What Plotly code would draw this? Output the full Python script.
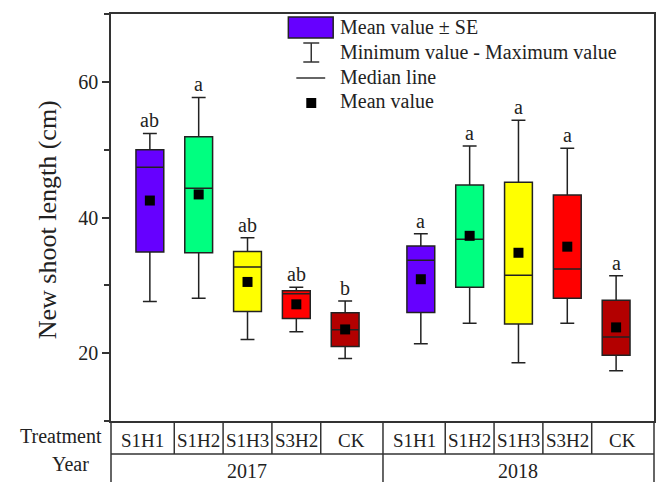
import plotly.graph_objects as go

# ---------------- data ----------------
years = ["2017", "2018"]
treatments = ["S1H1", "S1H2", "S1H3", "S3H2", "CK"]
positions = [1, 2, 3, 4, 5, 6.55, 7.55, 8.55, 9.55, 10.55]
se_low = [34.9, 34.8, 26.15, 25.1, 21.0, 26.0, 29.7, 24.3, 28.1, 19.7]
se_high = [50.0, 51.9, 35.0, 29.2, 25.95, 35.8, 44.8, 45.2, 43.3, 27.8]
medians = [47.4, 44.3, 32.7, 28.75, 23.45, 33.7, 36.8, 31.5, 32.4, 22.4]
means = [42.5, 43.4, 30.5, 27.2, 23.5, 30.9, 37.3, 34.8, 35.7, 23.8]
mins = [27.6, 28.1, 22.0, 23.15, 19.2, 21.4, 24.4, 18.6, 24.4, 17.4]
maxs = [52.4, 57.7, 37.0, 29.7, 27.7, 37.6, 50.55, 54.35, 50.2, 31.4]
letters = ["ab", "a", "ab", "ab", "b", "a", "a", "a", "a", "a"]
treat_colors = ["#6600FF", "#00FF80", "#FFFF00", "#FF0000", "#B30000"]
legend_labels = ["Mean value \u00b1 SE", "Minimum value - Maximum value",
                 "Median line", "Mean value"]
y_title = "New shoot length (cm)"
row_titles = ["Treatment", "Year"]

# ---------------- layout constants ----------------
FW, FH = 661, 482
L, R, T, B = 111, 5, 14, 61
PW, PH = FW - L - R, FH - T - B
XR = [0.204, 11.326]
YR = [10, 70]
FONT = "Liberation Serif, Times New Roman, DejaVu Serif, serif"
INK = "#222222"
AX = "#333333"


def px(xp):
    return (xp - L) / PW


def py(yp):
    return 1 - (yp - T) / PH


def dx(x):
    return (x - XR[0]) / (XR[1] - XR[0])


fig = go.Figure()

n = len(positions)
for i in range(n):
    fig.add_trace(go.Box(
        x=[positions[i]], q1=[se_low[i]], median=[medians[i]], q3=[se_high[i]],
        lowerfence=[mins[i]], upperfence=[maxs[i]],
        fillcolor=treat_colors[i % 5], line=dict(color=INK, width=1.5),
        width=0.57, whiskerwidth=0.5, boxpoints=False, showlegend=False,
        hoverinfo="skip"))

fig.add_trace(go.Scatter(
    x=positions, y=means, mode="markers",
    marker=dict(symbol="square", size=10, color="black", line=dict(width=0)),
    showlegend=False, hoverinfo="skip"))

annotations = []
for i in range(n):
    annotations.append(dict(
        x=positions[i], y=maxs[i], xref="x", yref="y", text=letters[i],
        showarrow=False, yanchor="bottom", xanchor="center", yshift=0,
        font=dict(family=FONT, size=20, color=INK)))

shapes = []
line_style = dict(color=AX, width=1.5)

# ---------- table below the plot ----------
y_table_top = py(421)
y_mid = py(454)
y_bot = py(482)
shapes.append(dict(type="line", xref="paper", yref="paper", x0=0, x1=0,
                   y0=y_table_top, y1=y_bot, line=line_style))
shapes.append(dict(type="line", xref="paper", yref="paper", x0=1, x1=1,
                   y0=y_table_top, y1=y_bot, line=line_style))
shapes.append(dict(type="line", xref="paper", yref="paper", x0=0, x1=1,
                   y0=y_mid, y1=y_mid, line=line_style))

bounds = [XR[0]]
for i in range(n - 1):
    bounds.append((positions[i] + positions[i + 1]) / 2)
bounds.append(XR[1])
for j in range(1, n):
    bottom = y_bot if j == 5 else y_mid
    shapes.append(dict(type="line", xref="paper", yref="paper",
                       x0=dx(bounds[j]), x1=dx(bounds[j]),
                       y0=y_table_top, y1=bottom, line=line_style))

for i in range(n):
    cx = (dx(bounds[i]) + dx(bounds[i + 1])) / 2
    annotations.append(dict(
        x=cx, y=py(440), xref="paper", yref="paper", text=treatments[i % 5],
        showarrow=False, xanchor="center", yanchor="middle",
        font=dict(family=FONT, size=19, color=INK)))

for g in range(2):
    cx = (dx(bounds[g * 5]) + dx(bounds[g * 5 + 5])) / 2
    annotations.append(dict(
        x=cx, y=py(471), xref="paper", yref="paper", text=years[g],
        showarrow=False, xanchor="center", yanchor="middle",
        font=dict(family=FONT, size=20, color=INK)))

annotations.append(dict(
    x=px(104), y=py(436), xref="paper", yref="paper", text=row_titles[0],
    showarrow=False, xanchor="right", yanchor="middle",
    font=dict(family=FONT, size=20, color=INK)))
annotations.append(dict(
    x=px(70), y=py(464), xref="paper", yref="paper", text=row_titles[1],
    showarrow=False, xanchor="center", yanchor="middle",
    font=dict(family=FONT, size=20, color=INK)))

annotations.append(dict(
    x=px(47), y=py(220), xref="paper", yref="paper", text=y_title,
    showarrow=False, xanchor="center", yanchor="middle", textangle=-90,
    font=dict(family=FONT, size=26, color=INK)))

# ---------- custom legend ----------
shapes.append(dict(type="rect", xref="paper", yref="paper",
                   x0=px(289), x1=px(334), y0=py(38), y1=py(17),
                   fillcolor=treat_colors[0], line=dict(color=INK, width=1.5)))
shapes.append(dict(type="line", xref="paper", yref="paper",
                   x0=px(312), x1=px(312), y0=py(43), y1=py(62), line=line_style))
shapes.append(dict(type="line", xref="paper", yref="paper",
                   x0=px(304), x1=px(320), y0=py(43), y1=py(43), line=line_style))
shapes.append(dict(type="line", xref="paper", yref="paper",
                   x0=px(304), x1=px(320), y0=py(62), y1=py(62), line=line_style))
shapes.append(dict(type="line", xref="paper", yref="paper",
                   x0=px(297), x1=px(326), y0=py(78), y1=py(78), line=line_style))
shapes.append(dict(type="rect", xref="paper", yref="paper",
                   x0=px(307), x1=px(317), y0=py(108), y1=py(98),
                   fillcolor="black", line=dict(width=0)))

for lab, yc in zip(legend_labels, [27, 52, 77, 101]):
    annotations.append(dict(
        x=px(339), y=py(yc), xref="paper", yref="paper", text=lab,
        showarrow=False, xanchor="left", yanchor="middle",
        font=dict(family=FONT, size=20, color=INK)))

fig.update_layout(
    width=FW, height=FH,
    margin=dict(l=L, r=R, t=T, b=B, pad=0),
    paper_bgcolor="white", plot_bgcolor="white",
    font=dict(family=FONT, size=20, color=INK),
    shapes=shapes, annotations=annotations,
    showlegend=False,
)
fig.update_xaxes(range=XR, showgrid=False, zeroline=False, showticklabels=False,
                 ticks="", showline=True, linecolor=AX, linewidth=1.5, mirror=True)
fig.update_yaxes(range=YR, showgrid=False, zeroline=False, tick0=0, dtick=20,
                 ticks="outside", ticklen=7, tickwidth=1.5, tickcolor=AX,
                 minor=dict(dtick=10, ticks="outside", ticklen=5, tickwidth=1.5,
                            tickcolor=AX),
                 showline=True, linecolor=AX, linewidth=1.5, mirror=True,
                 tickfont=dict(family=FONT, size=20, color=INK))

fig.write_html("out.html")
